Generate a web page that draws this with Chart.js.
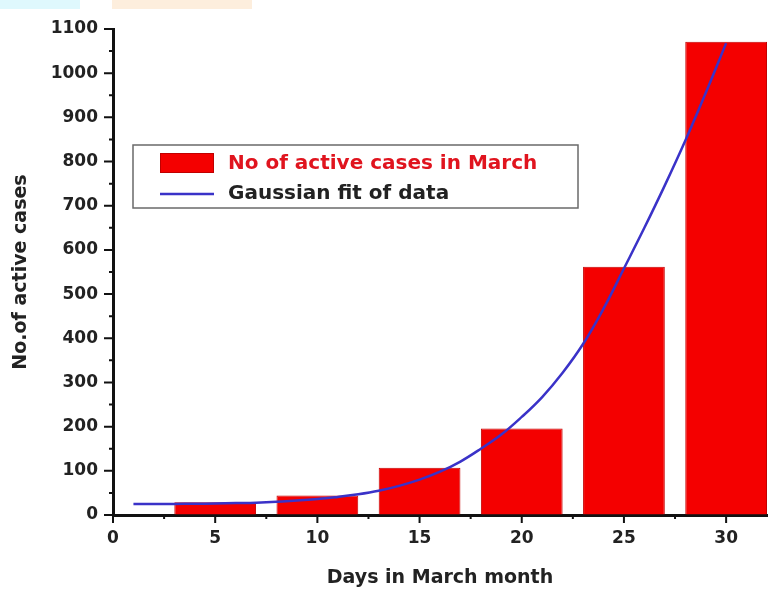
<!DOCTYPE html>
<html>
<head>
<meta charset="utf-8">
<script src="https://cdn.jsdelivr.net/npm/chart.js@4/dist/chart.umd.min.js"></script>
<style>
  html, body { margin: 0; padding: 0; background: #fff; }
  #wrap { position: relative; width: 769px; height: 593px; overflow: hidden; }
  canvas { display: block; }
  .strip { position: absolute; top: 0; height: 9px; }
</style>
</head>
<body>
<div id="wrap">
  <div class="strip" style="left:0;width:80px;background:#dff8fd;"></div>
  <div class="strip" style="left:112px;width:140px;background:#fdeedd;"></div>
  <canvas id="c" width="769" height="593"></canvas>
</div>
<script>
// Active cases recorded on selected days of March
const days = [5, 10, 15, 20, 25, 30];
const activeCases = [29, 44, 107, 196, 562, 1071];

// Gaussian fit curve, sampled day by day
const fitDays = [1, 2, 3, 4, 5, 6, 7, 8, 9, 10, 11, 12, 13, 14, 15,
                 16, 17, 18, 19, 20, 21, 22, 23, 24, 25, 26, 27, 28, 29, 30];
const fitValues = [25, 25, 25, 25.5, 26, 27, 28, 30, 33, 36, 41, 47, 55, 66, 80,
                   98, 121, 150, 182, 222, 267, 322, 387, 467, 558, 650, 746, 847, 955, 1068];

// Axis ticks
const xTicks = [0, 5, 10, 15, 20, 25, 30];
const yTicks = [0, 100, 200, 300, 400, 500, 600, 700, 800, 900, 1000, 1100];
const xMinorTicks = [2.5, 7.5, 12.5, 17.5, 22.5, 27.5];
const yMinorTicks = [50, 150, 250, 350, 450, 550, 650, 750, 850, 950, 1050];

// Legend entries
const seriesNames = ['No of active cases in March', 'Gaussian fit of data'];

const FONT = '"DejaVu Sans", "Liberation Sans", Arial, sans-serif';
const RED = '#f40000';
const BLUE = '#3a32c8';

// Outward tick marks: long for labelled values, short in between
const axisTicks = {
  id: 'axisTicks',
  afterDraw(chart) {
    const { ctx, scales: { x, y } } = chart;
    ctx.save();
    ctx.strokeStyle = '#111';
    ctx.lineWidth = 2;
    ctx.beginPath();
    const xMark = (v, len) => {
      const px = x.getPixelForValue(v);
      ctx.moveTo(px, y.bottom);
      ctx.lineTo(px, y.bottom + len);
    };
    const yMark = (v, len) => {
      const py = y.getPixelForValue(v);
      ctx.moveTo(x.left, py);
      ctx.lineTo(x.left - len, py);
    };
    xTicks.forEach(v => xMark(v, 8));
    xMinorTicks.forEach(v => xMark(v, 4));
    yTicks.forEach(v => yMark(v, 9));
    yMinorTicks.forEach(v => yMark(v, 4));
    ctx.stroke();
    ctx.restore();
  }
};

// Framed legend inside the plot area
const boxLegend = {
  id: 'boxLegend',
  afterDraw(chart) {
    const { ctx } = chart;
    const bx = 133, by = 145, bw = 445, bh = 63;
    ctx.save();
    ctx.fillStyle = '#fff';
    ctx.fillRect(bx, by, bw, bh);
    ctx.strokeStyle = '#6a6a6a';
    ctx.lineWidth = 1.5;
    ctx.strokeRect(bx, by, bw, bh);

    ctx.fillStyle = RED;
    ctx.fillRect(160, 153, 54, 20);
    ctx.strokeStyle = '#c00000';
    ctx.lineWidth = 1;
    ctx.strokeRect(160.5, 153.5, 53, 19);

    ctx.strokeStyle = BLUE;
    ctx.lineWidth = 2.5;
    ctx.beginPath();
    ctx.moveTo(160, 194);
    ctx.lineTo(214, 194);
    ctx.stroke();

    ctx.font = 'bold 20px ' + FONT;
    ctx.textBaseline = 'middle';
    ctx.fillStyle = '#e0141e';
    ctx.fillText(seriesNames[0], 228, 164);
    ctx.fillStyle = '#222';
    ctx.fillText(seriesNames[1], 228, 194);
    ctx.restore();
  }
};

const tickFont = { family: FONT, size: 17, weight: 'bold' };
const titleFont = { family: FONT, size: 19, weight: 'bold' };
const hiddenGrid = { drawOnChartArea: false, drawTicks: true, tickLength: 9, tickColor: 'rgba(0,0,0,0)' };

new Chart(document.getElementById('c'), {
  data: {
    datasets: [
      {
        type: 'line',
        label: seriesNames[1],
        data: fitDays.map((d, i) => ({ x: d, y: fitValues[i] })),
        borderColor: BLUE,
        borderWidth: 2.5,
        pointRadius: 0,
        tension: 0.4,
        fill: false,
        order: 0
      },
      {
        type: 'bar',
        label: seriesNames[0],
        data: days.map((d, i) => ({ x: d, y: activeCases[i] })),
        backgroundColor: RED,
        borderColor: '#c40000',
        borderWidth: 1,
        barPercentage: 0.8,
        categoryPercentage: 1,
        order: 1
      }
    ]
  },
  options: {
    responsive: false,
    animation: false,
    layout: { padding: { top: 29, right: 2, left: 6, bottom: 0 } },
    plugins: {
      legend: { display: false },
      tooltip: { enabled: false }
    },
    scales: {
      x: {
        type: 'linear',
        min: 0,
        max: 32,
        offset: false,
        afterBuildTicks: s => { s.ticks = xTicks.map(v => ({ value: v })); },
        afterFit: s => { s.height = 78; },
        grid: hiddenGrid,
        border: { display: true, color: '#111', width: 3 },
        ticks: { color: '#222', font: tickFont, padding: 4, maxRotation: 0, callback: v => String(v) },
        title: { display: true, text: 'Days in March month', color: '#222', font: titleFont, padding: { top: 13 } }
      },
      y: {
        type: 'linear',
        min: 0,
        max: 1100,
        afterBuildTicks: s => { s.ticks = yTicks.map(v => ({ value: v })); },
        afterFit: s => { s.width = 107; },
        grid: hiddenGrid,
        border: { display: true, color: '#111', width: 3 },
        ticks: { color: '#222', font: tickFont, padding: 6, callback: v => String(v) },
        title: { display: true, text: 'No.of active cases', color: '#222', font: titleFont, padding: { bottom: 6 } }
      }
    }
  },
  plugins: [axisTicks, boxLegend]
});
</script>
</body>
</html>
